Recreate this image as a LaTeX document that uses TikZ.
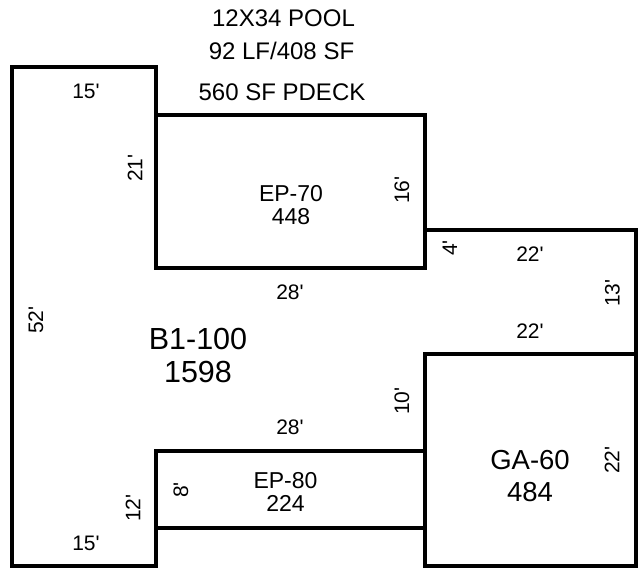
\documentclass[tikz,border=0pt]{standalone}
\usepackage{fontspec}
\setmainfont{Liberation Sans}
\usepackage{tikz}
\newcommand{\ft}{\textquotesingle}
\tikzset{
  wall/.style={line width=3.7pt,line cap=rect},
  head/.style={font=\fontsize{24}{24}\selectfont,inner sep=0pt},
  dim/.style={font=\fontsize{21}{21}\selectfont,inner sep=0pt},
  room/.style={font=\fontsize{23}{23}\selectfont,inner sep=0pt,align=center},
  bigroom/.style={font=\fontsize{30.5}{33}\selectfont,inner sep=0pt,align=center},
  garage/.style={font=\fontsize{27.5}{32}\selectfont,inner sep=0pt,align=center}
}
\begin{document}
\begin{tikzpicture}[x=1pt,y=-1pt]
      \useasboundingbox (0,0) rectangle (638,572);

      % outline
      \draw[wall] (156,115) -- (156,67) -- (12,67) -- (12,566) -- (156,566) -- (156,528);
      \draw[wall] (425,230) -- (636,230) -- (636,354);

      % rooms
      \draw[wall] (156,115) rectangle (425,268);
      \draw[wall] (156,451) rectangle (425,528);
      \draw[wall] (425,354) rectangle (636,566);

      \node[head] (title) at (283.5,18) {12X34 POOL};
      \node[head] (size) at (281.5,51) {92 LF/408 SF};
      \node[head] (deck) at (282,92) {560 SF PDECK};

      \node[room] (ep70) at (291,205) {EP-70\\448};
      \node[room] (ep80) at (285.5,492) {EP-80\\224};
      \node[bigroom] (b1) at (198,355.5) {B1-100\\1598};
      \node[garage] (ga) at (530,476) {GA-60\\484};

      \node[dim] (top15) at (86,91) {15\ft};
      \node[dim] (bot15) at (86,543) {15\ft};
      \node[dim] (top28) at (290,292) {28\ft};
      \node[dim] (bot28) at (290,427) {28\ft};
      \node[dim] (up22) at (530,254) {22\ft};
      \node[dim] (lo22) at (530,331) {22\ft};

      \node[dim,rotate=90] (left52) at (36,320) {52\ft};
      \node[dim,rotate=90] (left21) at (135,168) {21\ft};
      \node[dim,rotate=90] (right16) at (402,190) {16\ft};
      \node[dim,rotate=90] (step4) at (450,248) {4\ft};
      \node[dim,rotate=90] (right13) at (612.5,293) {13\ft};
      \node[dim,rotate=90] (right10) at (402,401) {10\ft};
      \node[dim,rotate=90] (right22) at (612,460) {22\ft};
      \node[dim,rotate=90] (left8) at (181,490) {8\ft};
      \node[dim,rotate=90] (left12) at (133,508) {12\ft};
\end{tikzpicture}
\end{document}
